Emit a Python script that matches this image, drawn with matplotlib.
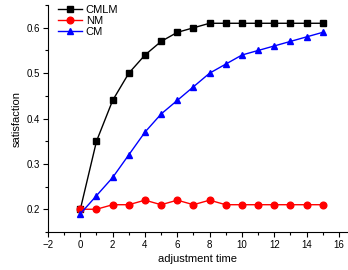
import numpy as np
import matplotlib
matplotlib.use('Agg')
import matplotlib.pyplot as plt
from matplotlib.ticker import MultipleLocator

t = list(range(16))
cmlm = [0.20, 0.35, 0.44, 0.50, 0.54, 0.57, 0.59, 0.60, 0.61, 0.61,
        0.61, 0.61, 0.61, 0.61, 0.61, 0.61]
nm = [0.20, 0.20, 0.21, 0.21, 0.22, 0.21, 0.22, 0.21, 0.22, 0.21,
      0.21, 0.21, 0.21, 0.21, 0.21, 0.21]
cm = [0.19, 0.23, 0.27, 0.32, 0.37, 0.41, 0.44, 0.47, 0.50, 0.52,
      0.54, 0.55, 0.56, 0.57, 0.58, 0.59]

plt.rcParams['font.family'] = ['Liberation Sans', 'DejaVu Sans']

fig = plt.figure(figsize=(3.48, 2.70), dpi=100)
ax = fig.add_axes([0.138, 0.141, 0.859, 0.840])

ax.plot(t, cmlm, 's-', color='black', linewidth=1.0, markersize=4.2, label='CMLM')
ax.plot(t, nm, 'o-', color='red', linewidth=1.0, markersize=4.8, label='NM')
ax.plot(t, cm, '^-', color='blue', linewidth=1.0, markersize=4.8, label='CM')

ax.set_xlim(-2, 16.5)
ax.set_ylim(0.15, 0.65)
ax.xaxis.set_major_locator(MultipleLocator(2))
ax.xaxis.set_minor_locator(MultipleLocator(1))
ax.yaxis.set_minor_locator(MultipleLocator(0.05))
ax.set_yticks([0.2, 0.3, 0.4, 0.5, 0.6])
ax.set_yticklabels(['0.2', '0.3', '0.4', '0.5', '0.6'])
ax.tick_params(which='major', length=3.5, width=0.8, labelsize=7, pad=2)
ax.tick_params(which='minor', length=2, width=0.8)

for s in ['top', 'right']:
    ax.spines[s].set_visible(False)
for s in ['left', 'bottom']:
    ax.spines[s].set_linewidth(0.8)

ax.set_xlabel('adjustment time', fontsize=8, labelpad=3)
ax.set_ylabel('satisfaction', fontsize=8, labelpad=4)

ax.legend(loc='upper left', bbox_to_anchor=(0.0, 1.045), frameon=False,
          fontsize=8, handlelength=2.2, handletextpad=0.3, labelspacing=0.1)

fig.savefig('out.png', dpi=100)
